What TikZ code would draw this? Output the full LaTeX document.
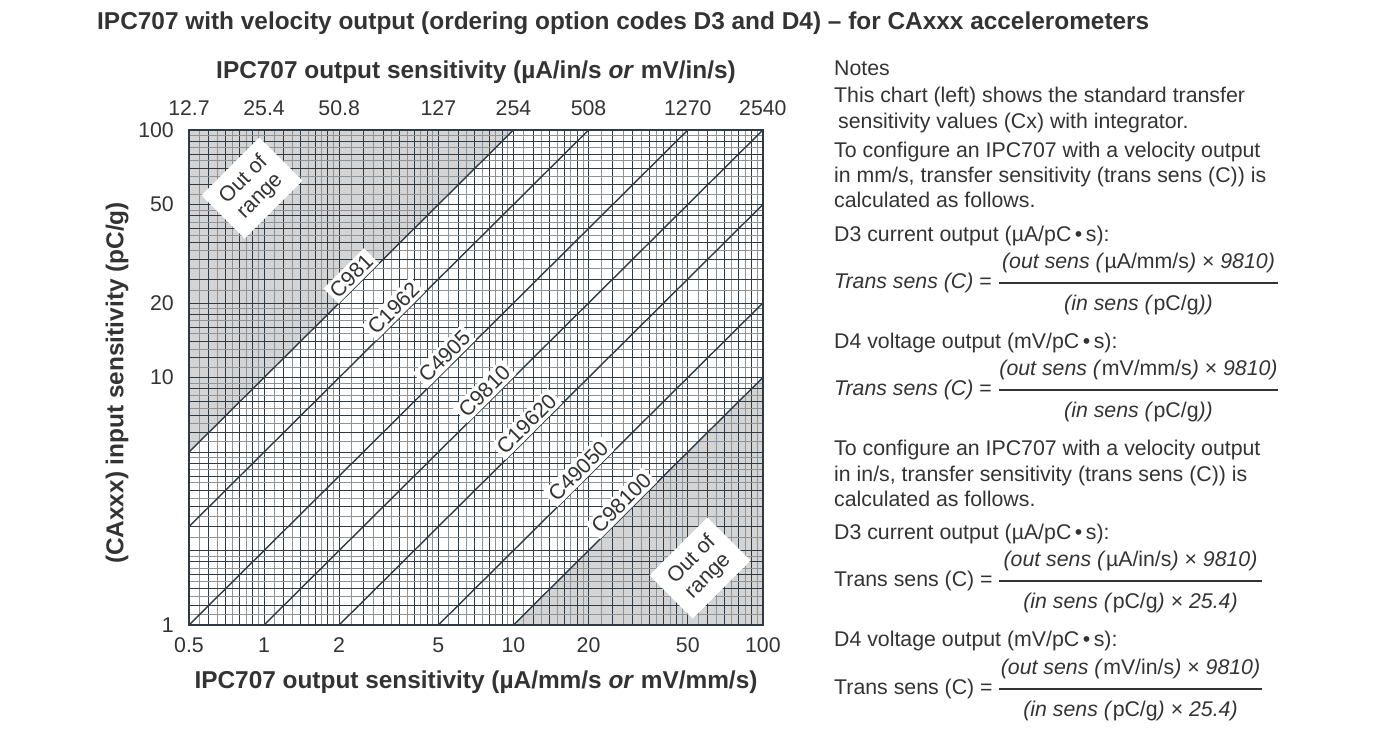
\documentclass[tikz,border=0pt]{standalone}
\usepackage{fontspec}
\setmainfont{Liberation Sans}
\begin{document}
\definecolor{txt}{HTML}{333333}
\definecolor{gridc}{HTML}{2E3A45}
\definecolor{gridl}{HTML}{8C9399}
\definecolor{greyfill}{HTML}{D4D4D4}
\begin{tikzpicture}[x=1pt,y=-1pt,
  declare function={px(\v)=189+249.4*log10(\v/0.5); py(\v)=625-247.5*log10(\v);},
  every node/.style={text=txt,inner sep=0pt},
  body/.style={font=\fontsize{21.3}{24}\selectfont,anchor=base west},
  tick/.style={font=\fontsize{21.3}{24}\selectfont},
  axt/.style={font=\fontsize{24.4}{27}\selectfont\bfseries},
  dark/.style={draw=gridc,line width=0.95pt},
  light/.style={draw=gridl,line width=0.95pt},
  clab/.style={fill=white,rotate=45,anchor=south,inner sep=3pt,font=\fontsize{21.3}{24}\selectfont},
  oor/.style={fill=white,rotate=45,inner xsep=12pt,inner ysep=9pt,align=center,font=\fontsize{21.3}{23}\selectfont}]
\useasboundingbox (0,0) rectangle (1379,731);
% shaded regions
\fill[greyfill] ({px(0.5)},{py(5)}) -- ({px(0.5)},{py(100)}) -- ({px(10)},{py(100)}) -- cycle;
\fill[greyfill] ({px(10)},{py(1)}) -- ({px(100)},{py(1)}) -- ({px(100)},{py(10)}) -- cycle;
% vertical grid
\foreach \d in {0.1,1,10}{
 \foreach \m [count=\i] in {1,1.1,1.2,1.3,1.4,1.5,1.6,1.7,1.8,1.9,2,2.25,2.5,2.75,3,3.25,3.5,3.75,4,4.25,4.5,4.75,5,5.5,6,6.5,7,7.5,8,8.5,9,9.5}{
  \pgfmathtruncatemacro\ok{and(\d*\m>0.49,\d*\m<99)}
  \pgfmathtruncatemacro\lt{mod(\i,2)==0}
  \ifnum\ok=1
   \ifnum\lt=1 \draw[light] ({px(\d*\m)},130) -- ({px(\d*\m)},625);
   \else \draw[dark] ({px(\d*\m)},130) -- ({px(\d*\m)},625); \fi
  \fi
 }}
% horizontal grid
\foreach \d in {1,10}{
 \foreach \m [count=\i] in {1,1.1,1.2,1.3,1.4,1.5,1.6,1.7,1.8,1.9,2,2.25,2.5,2.75,3,3.25,3.5,3.75,4,4.25,4.5,4.75,5,5.5,6,6.5,7,7.5,8,8.5,9,9.5}{
  \pgfmathtruncatemacro\lt{mod(\i,2)==0}
  \ifnum\lt=1 \draw[light] (189,{py(\d*\m)}) -- (763,{py(\d*\m)});
  \else \draw[dark] (189,{py(\d*\m)}) -- (763,{py(\d*\m)}); \fi
 }}
% diagonal lines
\begin{scope}
\clip (189,130) rectangle (763,625);
\foreach \k in {0.1,0.2,0.5,1,2,5,10}
  \draw[gridc,line width=1.4pt] ({px(\k*0.5)},{py(0.5)}) -- ({px(\k*100)},{py(100)});
\end{scope}
\draw[gridc,line width=1.8pt] (189,130) rectangle (763,625);
% labels on lines
\node[clab] (c1) at ({px(2.4)},{py(24)}) {C981};
\node[clab] (c2) at ({px(3.54)},{py(17.7)}) {C1962};
\node[clab] (c3) at ({px(5.67)},{py(11.34)}) {C4905};
\node[clab] (c4) at ({px(8.2)},{py(8.2)}) {C9810};
\node[clab] (c5) at ({px(12.1)},{py(6.05)}) {C19620};
\node[clab] (c6) at ({px(19.5)},{py(3.9)}) {C49050};
\node[clab] (c7) at ({px(29)},{py(2.9)}) {C98100};
\node[oor] (o1) at (252,188) {Out of\\range};
\node[oor] (o2) at (700,568) {Out of\\range};
% ticks
\foreach \v/\t in {100/100,50/50,20/20,10/10,1/1}
  \node[tick,anchor=east] (l\t) at (174,{py(\v)}) {\t};
\foreach \v/\t in {0.5/0.5,1/1,2/2,5/5,10/10,20/20,50/50,100/100}
  \node[tick,anchor=base] (b\t) at ({px(\v)},652) {\t};
\foreach \v/\t in {0.5/12.7,1/25.4,2/50.8,5/127,10/254,20/508,50/1270,100/2540}
  \node[tick,anchor=base] (t\t) at ({px(\v)},115) {\t};
% axis titles
\node[axt,anchor=base] (tt) at (476,78) {IPC707 output sensitivity (µA/in/s \textit{or} mV/in/s)};
\node[axt,anchor=base] (bt) at (476,688) {IPC707 output sensitivity (µA/mm/s \textit{or} mV/mm/s)};
\node[axt,rotate=90] (lt) at (117,383) {(CAxxx) input sensitivity (pC/g)};
\node[axt,anchor=base west] (title) at (97,29) {IPC707 with velocity output (ordering option codes D3 and D4) -- for CAxxx accelerometers};
% notes
\node[body] (n1) at (834,75) {Notes};
\node[body] (n2) at (834,102) {This chart (left) shows the standard transfer};
\node[body] (n3) at (838,128) {sensitivity values (Cx) with integrator.};
\node[body] (n4) at (834,157) {To configure an IPC707 with a velocity output};
\node[body] (n5) at (834,182) {in mm/s, transfer sensitivity (trans sens (C)) is};
\node[body] (n6) at (834,207) {calculated as follows.};
\node[body] (n7) at (834,241) {D3 current output (µA/pC\,•\,s):};
\node[body] (n8) at (834,348) {D4 voltage output (mV/pC\,•\,s):};
\node[body] (n9) at (834,455) {To configure an IPC707 with a velocity output};
\node[body] (n10) at (834,481) {in in/s, transfer sensitivity (trans sens (C)) is};
\node[body] (n11) at (834,506) {calculated as follows.};
\node[body] (n12) at (834,539) {D3 current output (µA/pC\,•\,s):};
\node[body] (n13) at (834,646) {D4 voltage output (mV/pC\,•\,s):};
% equations
\foreach \y/\lhs/\num/\den/\xa/\xb in {
  283/{\textit{Trans sens (C)} =}/{\textit{(out sens (}µA/mm/s\textit{)} × \textit{9810)}}/{\textit{(in sens (}pC/g\textit{))}}/999/1278,
  390/{\textit{Trans sens (C)} =}/{\textit{(out sens (}mV/mm/s\textit{)} × \textit{9810)}}/{\textit{(in sens (}pC/g\textit{))}}/999/1278,
  581/{Trans sens (C) =}/{\textit{(out sens (}µA/in/s\textit{)} × \textit{9810)}}/{\textit{(in sens (}pC/g\textit{)} × \textit{25.4)}}/999/1262,
  689/{Trans sens (C) =}/{\textit{(out sens (}mV/in/s\textit{)} × \textit{9810)}}/{\textit{(in sens (}pC/g\textit{)} × \textit{25.4)}}/999/1262}{
  \node[body,anchor=west] (eq\y) at (834,\y) {\lhs};
  \draw[txt,line width=1.3pt] (\xa,\y) -- (\xb,\y);
  \node[body,anchor=base] (num\y) at ({(\xa+\xb)/2},{\y-15}) {\num};
  \node[body,anchor=base] (den\y) at ({(\xa+\xb)/2},{\y+27}) {\den};
}
\end{tikzpicture}
\end{document}
